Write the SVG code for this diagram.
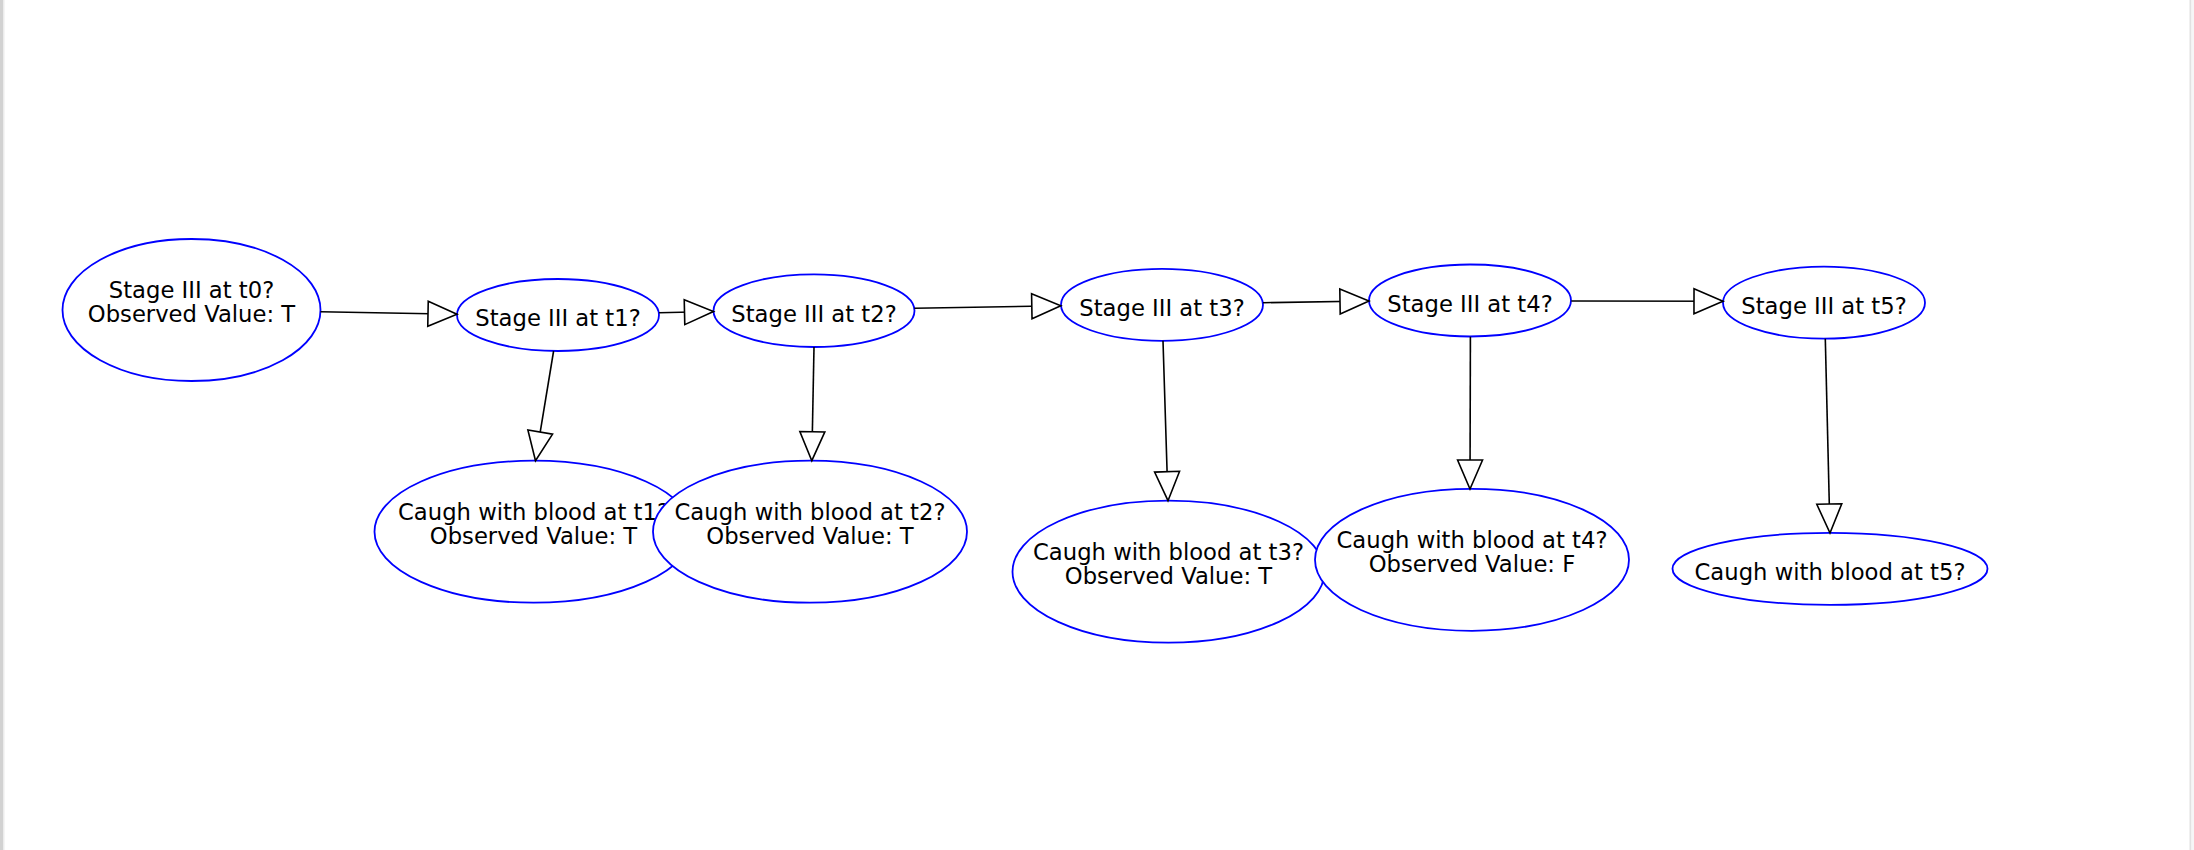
<svg xmlns="http://www.w3.org/2000/svg" width="2194" height="850" viewBox="0 0 2194 850">
<style>
.node ellipse{fill:#ffffff;stroke:#0000ff;stroke-width:1.8}
.node text{font-family:"DejaVu Sans","Liberation Sans",sans-serif;font-size:22.7px;fill:#000000;text-anchor:middle}
.edge{stroke:#000000;stroke-width:1.6;fill:none;marker-end:url(#arr)}
</style>
<defs>
<marker id="arr" viewBox="0 0 29 25" refX="29" refY="12.5" markerWidth="29" markerHeight="25" orient="auto" markerUnits="userSpaceOnUse" overflow="visible">
<path d="M0,0 L29,12.5 L0,25 Z" fill="#ffffff" stroke="#000000" stroke-width="1.6" stroke-linejoin="miter"/>
</marker>
</defs>
<rect x="0" y="0" width="2194" height="850" fill="#ffffff"/>
<rect x="0" y="0" width="3" height="850" fill="#d2d2d2"/>
<rect x="3" y="0" width="1.5" height="850" fill="#ececec"/>
<rect x="2189.5" y="0" width="2" height="850" fill="#e2e2e2"/>
<rect x="2191.5" y="0" width="2.5" height="850" fill="#f6f6f6"/>

<g id="t0" class="node"><ellipse cx="191.5" cy="310" rx="129" ry="71"/><text x="191.5" y="298.3">Stage III at t0?</text><text x="191.5" y="321.7">Observed Value: T</text></g>
<g id="t1" class="node"><ellipse cx="558" cy="315" rx="101" ry="36"/><text x="558" y="326">Stage III at t1?</text></g>
<g id="t2" class="node"><ellipse cx="814" cy="310.7" rx="100.5" ry="36.3"/><text x="814" y="321.7">Stage III at t2?</text></g>
<g id="t3" class="node"><ellipse cx="1162" cy="304.8" rx="101" ry="36"/><text x="1162" y="315.8">Stage III at t3?</text></g>
<g id="t4" class="node"><ellipse cx="1470" cy="300.5" rx="101" ry="36"/><text x="1470" y="311.5">Stage III at t4?</text></g>
<g id="t5" class="node"><ellipse cx="1824" cy="302.7" rx="101" ry="36"/><text x="1824" y="313.7">Stage III at t5?</text></g>
<g id="cb1" class="node"><ellipse cx="533.5" cy="531.7" rx="159" ry="71"/><text x="533.5" y="520">Caugh with blood at t1?</text><text x="533.5" y="544">Observed Value: T</text></g>
<g id="cb2" class="node"><ellipse cx="810" cy="531.7" rx="157" ry="71"/><text x="810" y="520">Caugh with blood at t2?</text><text x="810" y="544">Observed Value: T</text></g>
<g id="cb3" class="node"><ellipse cx="1168.5" cy="571.7" rx="156" ry="71"/><text x="1168.5" y="559.7">Caugh with blood at t3?</text><text x="1168.5" y="583.7">Observed Value: T</text></g>
<g id="cb4" class="node"><ellipse cx="1472" cy="559.8" rx="157" ry="71"/><text x="1472" y="547.8">Caugh with blood at t4?</text><text x="1472" y="571.8">Observed Value: F</text></g>
<g id="cb5" class="node"><ellipse cx="1830" cy="568.8" rx="157.5" ry="36"/><text x="1830" y="579.8">Caugh with blood at t5?</text></g>

<g id="connectors">
<path class="edge" d="M320.5,311.7 L457,314.3"/>
<path class="edge" d="M659,312.7 L713.5,311.5"/>
<path class="edge" d="M914.4,308.3 L1060.8,305.7"/>
<path class="edge" d="M1263,302.7 L1369,301"/>
<path class="edge" d="M1571.3,301 L1723,301.3"/>
<path class="edge" d="M553.6,351 L535.5,460.7"/>
<path class="edge" d="M814,347 L811.8,460.7"/>
<path class="edge" d="M1163,340.7 L1168,500.7"/>
<path class="edge" d="M1470.4,336.7 L1470,489"/>
<path class="edge" d="M1825.3,338.7 L1830,533"/>
</g>
</svg>
